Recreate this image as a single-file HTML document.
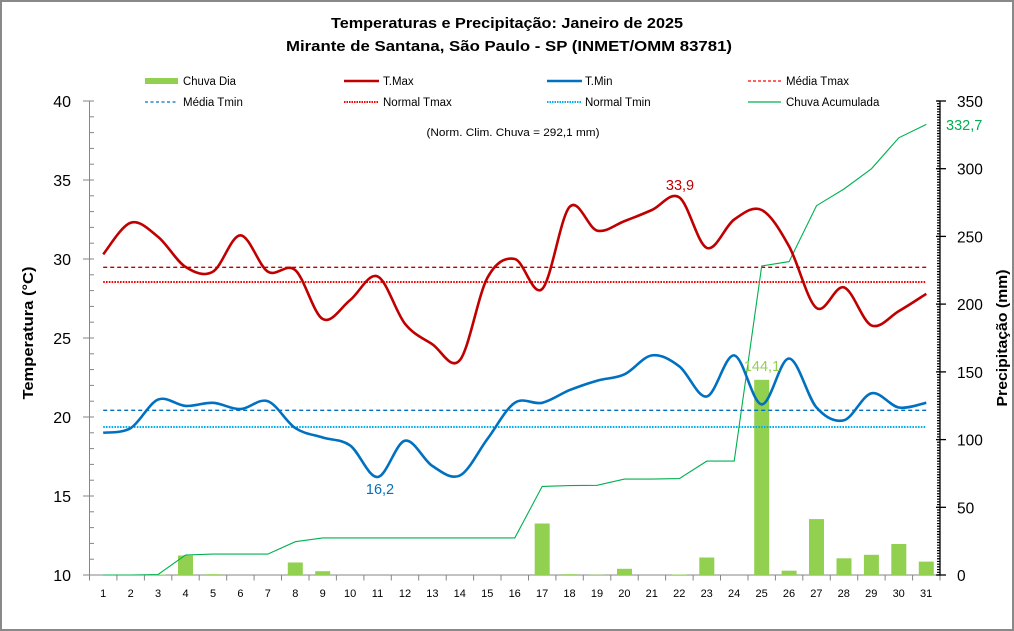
<!DOCTYPE html>
<html><head><meta charset="utf-8">
<style>
html,body{margin:0;padding:0;background:#fff;}
svg{display:block;font-family:"Liberation Sans",Arial,sans-serif;}
</style></head>
<body>
<svg id="s" width="1014" height="631" viewBox="0 0 1014 631" xmlns="http://www.w3.org/2000/svg">
<rect x="1" y="1" width="1012" height="629" fill="#fff" stroke="#898989" stroke-width="2"/>
<!-- titles -->
<text x="507" y="28" font-size="15" font-weight="bold" text-anchor="middle" textLength="352" lengthAdjust="spacingAndGlyphs">Temperaturas e Precipitação: Janeiro de 2025</text>
<text x="509" y="51" font-size="15" font-weight="bold" text-anchor="middle" textLength="446" lengthAdjust="spacingAndGlyphs">Mirante de Santana, São Paulo - SP (INMET/OMM 83781)</text>
<!-- legend -->
<g font-size="11.5" fill="#000">
<rect x="145" y="78" width="33" height="6" fill="#92d050"/>
<text x="183" y="85" textLength="53" lengthAdjust="spacingAndGlyphs">Chuva Dia</text>
<line x1="344" y1="81" x2="379" y2="81" stroke="#c00000" stroke-width="2.5"/>
<text x="383" y="85">T.Max</text>
<line x1="547" y1="81" x2="582" y2="81" stroke="#0070c0" stroke-width="2.5"/>
<text x="585" y="85">T.Min</text>
<line x1="748" y1="81" x2="781" y2="81" stroke="#ff0000" stroke-width="1.3" stroke-dasharray="3,2"/>
<text x="786" y="85">Média Tmax</text>
<line x1="145" y1="102" x2="178" y2="102" stroke="#0070c0" stroke-width="1.3" stroke-dasharray="3,2.5"/>
<text x="183" y="106">Média Tmin</text>
<line x1="344" y1="102" x2="379" y2="102" stroke="#ff0000" stroke-width="2" stroke-dasharray="1.5,1"/>
<text x="383" y="106">Normal Tmax</text>
<line x1="547" y1="102" x2="582" y2="102" stroke="#00b0f0" stroke-width="2" stroke-dasharray="1.5,1"/>
<text x="585" y="106">Normal Tmin</text>
<line x1="748" y1="102" x2="781" y2="102" stroke="#00b050" stroke-width="1.2"/>
<text x="786" y="106">Chuva Acumulada</text>
</g>
<text x="513" y="136" font-size="11" text-anchor="middle" textLength="173" lengthAdjust="spacingAndGlyphs">(Norm. Clim. Chuva = 292,1 mm)</text>
<!-- axis titles -->
<text transform="translate(33,333) rotate(-90)" font-size="15" font-weight="bold" text-anchor="middle" textLength="133" lengthAdjust="spacingAndGlyphs">Temperatura (°C)</text>
<text transform="translate(1007,338) rotate(-90)" font-size="15" font-weight="bold" text-anchor="middle" textLength="137" lengthAdjust="spacingAndGlyphs">Precipitação (mm)</text>
<!-- left axis labels -->
<g font-size="16" text-anchor="end" fill="#000">
<text x="71" y="107">40</text>
<text x="71" y="186">35</text>
<text x="71" y="265">30</text>
<text x="71" y="344">25</text>
<text x="71" y="423">20</text>
<text x="71" y="502">15</text>
<text x="71" y="581">10</text>
</g>
<!-- right axis labels -->
<g font-size="15.5" text-anchor="start" fill="#000">
<text x="957" y="107">350</text>
<text x="957" y="174.7">300</text>
<text x="957" y="242.4">250</text>
<text x="957" y="310.1">200</text>
<text x="957" y="377.9">150</text>
<text x="957" y="445.6">100</text>
<text x="957" y="513.3">50</text>
<text x="957" y="581">0</text>
</g>
<!-- x labels -->
<g font-size="11" text-anchor="middle" fill="#000">
<text x="103.2" y="597">1</text><text x="130.7" y="597">2</text><text x="158.1" y="597">3</text><text x="185.5" y="597">4</text><text x="213.0" y="597">5</text><text x="240.4" y="597">6</text><text x="267.8" y="597">7</text><text x="295.3" y="597">8</text><text x="322.7" y="597">9</text><text x="350.1" y="597">10</text><text x="377.5" y="597">11</text><text x="405.0" y="597">12</text><text x="432.4" y="597">13</text><text x="459.8" y="597">14</text><text x="487.3" y="597">15</text><text x="514.7" y="597">16</text><text x="542.1" y="597">17</text><text x="569.5" y="597">18</text><text x="597.0" y="597">19</text><text x="624.4" y="597">20</text><text x="651.8" y="597">21</text><text x="679.3" y="597">22</text><text x="706.7" y="597">23</text><text x="734.1" y="597">24</text><text x="761.6" y="597">25</text><text x="789.0" y="597">26</text><text x="816.4" y="597">27</text><text x="843.8" y="597">28</text><text x="871.3" y="597">29</text><text x="898.7" y="597">30</text><text x="926.1" y="597">31</text>
</g>
<g id="plot"></g>
<!-- data labels -->
<text x="680" y="190" font-size="14.5" text-anchor="middle" fill="#c00000">33,9</text>
<text x="380" y="494" font-size="14.5" text-anchor="middle" fill="#0070c0">16,2</text>
<text x="762" y="371" font-size="14.5" text-anchor="middle" fill="#92d050">144,1</text>
<text x="946" y="130" font-size="14.5" text-anchor="start" fill="#00b050">332,7</text>
</svg>
<script>
(function(){
var tmax=[30.3,32.3,31.4,29.5,29.2,31.5,29.2,29.3,26.2,27.4,28.9,25.9,24.6,23.6,28.8,30.0,28.1,33.3,31.8,32.4,33.1,33.9,30.7,32.5,33.1,30.8,26.9,28.2,25.8,26.7,27.8];
var tmin=[19.0,19.3,21.1,20.7,20.9,20.5,21.0,19.3,18.7,18.2,16.2,18.5,16.9,16.3,18.6,20.9,20.9,21.7,22.3,22.7,23.9,23.2,21.3,23.9,20.8,23.7,20.6,19.8,21.5,20.6,20.9];
var rain=[0,0,0.4,14.4,0.6,0,0,9.2,2.8,0,0,0,0,0,0,0,38,0.6,0.2,4.6,0,0.4,12.9,0,144.1,3.2,41.3,12.3,14.9,22.9,9.9];
var X0=89.5,DX=(940-89.5)/31;
function xc(i){return X0+(i+0.5)*DX;}
function ty(t){return 575-(t-10)*15.8;}
function ry(m){return 575-m*474/350;}
var h='';
// left axis
h+='<line x1="89.5" y1="101" x2="89.5" y2="575" stroke="#868686" stroke-width="1"/>';
for(var t=10;t<=40;t++){var y=ty(t).toFixed(1);
 if(t%5==0) h+='<line x1="83" y1="'+y+'" x2="94" y2="'+y+'" stroke="#868686" stroke-width="1"/>';
 else h+='<line x1="89.5" y1="'+y+'" x2="94" y2="'+y+'" stroke="#868686" stroke-width="1"/>';}
// x axis
h+='<line x1="89.5" y1="575" x2="940" y2="575" stroke="#868686" stroke-width="1"/>';
for(var k=0;k<=31;k++){var x=(X0+k*DX).toFixed(1);h+='<line x1="'+x+'" y1="575" x2="'+x+'" y2="580.5" stroke="#868686" stroke-width="1"/>';}
// right axis
var mt='';
for(var m=0;m<=350;m+=2){var y=ry(m).toFixed(2);mt+='M937 '+y+'H940';}
h+='<path d="'+mt+'" stroke="#000" stroke-width="1.2" fill="none"/>';
h+='<line x1="940" y1="101" x2="940" y2="575" stroke="#000" stroke-width="1.3"/>';
for(var m=0;m<=350;m+=50){var y=ry(m).toFixed(1);h+='<line x1="936" y1="'+y+'" x2="946" y2="'+y+'" stroke="#000" stroke-width="1.3"/>';}
// bars
for(var i=0;i<31;i++){if(rain[i]>0){var y=ry(rain[i]);h+='<rect x="'+(xc(i)-7.5).toFixed(1)+'" y="'+y.toFixed(1)+'" width="15" height="'+(575-y).toFixed(1)+'" fill="#92d050"/>';}}
// reference lines
var x1=xc(0).toFixed(1),x2=xc(30).toFixed(1);
h+='<line x1="'+x1+'" y1="267.3" x2="'+x2+'" y2="267.3" stroke="#c00000" stroke-width="1.3" stroke-dasharray="4,3"/>';
h+='<line x1="'+x1+'" y1="282" x2="'+x2+'" y2="282" stroke="#ff0000" stroke-width="2" stroke-dasharray="1.6,1.2"/>';
h+='<line x1="'+x1+'" y1="410.3" x2="'+x2+'" y2="410.3" stroke="#0070c0" stroke-width="1.3" stroke-dasharray="4,3"/>';
h+='<line x1="'+x1+'" y1="427" x2="'+x2+'" y2="427" stroke="#00b0f0" stroke-width="2" stroke-dasharray="1.6,1.2"/>';
// cumulative
var c=0,pts=[];for(var i=0;i<31;i++){c+=rain[i];pts.push(xc(i).toFixed(1)+','+ry(c).toFixed(1));}
h+='<polyline points="'+pts.join(' ')+'" fill="none" stroke="#00b050" stroke-width="1.1"/>';
// smooth curves
function smooth(arr){var P=arr.map(function(v,i){return [xc(i),ty(v)];});var n=P.length;var d='M'+P[0][0].toFixed(1)+' '+P[0][1].toFixed(1);
 for(var i=0;i<n-1;i++){var p0=P[i>0?i-1:i],p1=P[i],p2=P[i+1],p3=P[i+2<n?i+2:i+1];
  var c1x=p1[0]+(p2[0]-p0[0])/6,c1y=p1[1]+(p2[1]-p0[1])/6,c2x=p2[0]-(p3[0]-p1[0])/6,c2y=p2[1]-(p3[1]-p1[1])/6;
  d+='C'+c1x.toFixed(1)+' '+c1y.toFixed(1)+' '+c2x.toFixed(1)+' '+c2y.toFixed(1)+' '+p2[0].toFixed(1)+' '+p2[1].toFixed(1);}
 return d;}
h+='<path d="'+smooth(tmax)+'" fill="none" stroke="#c00000" stroke-width="2.6" stroke-linejoin="round"/>';
h+='<path d="'+smooth(tmin)+'" fill="none" stroke="#0070c0" stroke-width="2.6" stroke-linejoin="round"/>';
document.getElementById('plot').innerHTML=h;
})();
</script>
</body></html>
